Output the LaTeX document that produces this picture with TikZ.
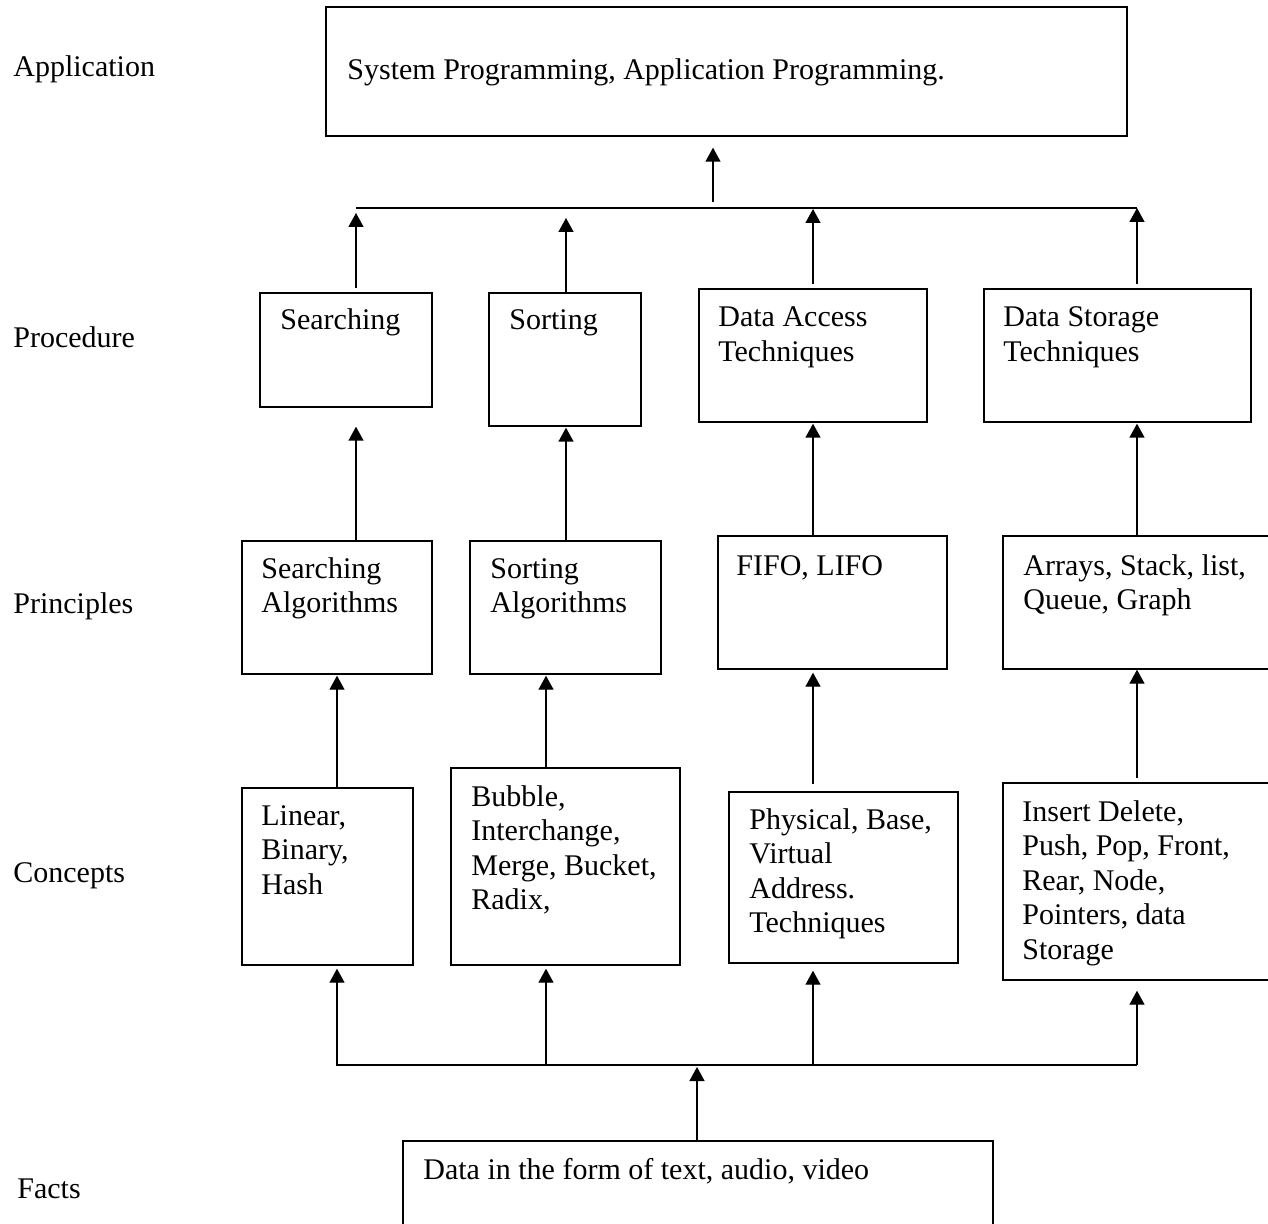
\documentclass[tikz,border=0pt]{standalone}
\usepackage{fontspec}
\setmainfont{Liberation Serif}
\usetikzlibrary{arrows.meta,fit,calc}
\begin{document}
\begin{tikzpicture}[x=0.5pt,y=-0.5pt,
  box/.style={draw,line width=0.7pt,inner sep=0pt},
  txt/.style={inner sep=0pt,anchor=base west,align=flush left,font=\fontsize{15}{17.25}\selectfont},
  ln/.style={line width=0.7pt},
  arr/.style={line width=0.7pt,-{Triangle[width=7.5pt,length=7pt]}}]
\useasboundingbox[fill=white] (0,0) rectangle (1268,1224);
\clip (0,0) rectangle (1268,1224);

% level labels
\node[txt] (lApp)  at (13,77)   {Application};
\node[txt] (lProc) at (13,348)  {Procedure};
\node[txt] (lPrin) at (13,613)  {Principles};
\node[txt] (lCon)  at (13,882)  {Concepts};
\node[txt] (lFact) at (17,1198) {Facts};

% boxes
\node[box,fit={(326,7)(1127,136)}]    (app)   {};
\node[box,fit={(260,293)(432,407)}]   (srch)  {};
\node[box,fit={(489,293)(641,426)}]   (sort)  {};
\node[box,fit={(699,289)(927,422)}]   (dacc)  {};
\node[box,fit={(984,289)(1251,422)}]  (dsto)  {};
\node[box,fit={(242,541)(432,674)}]   (salg)  {};
\node[box,fit={(470,541)(661,674)}]   (soalg) {};
\node[box,fit={(718,536)(947,669)}]   (fifo)  {};
\node[box,fit={(1003,536)(1300,669)}] (arrs)  {};
\node[box,fit={(242,788)(413,965)}]   (lin)   {};
\node[box,fit={(451,768)(680,965)}]   (bub)   {};
\node[box,fit={(729,792)(958,963)}]   (phys)  {};
\node[box,fit={(1003,783)(1300,980)}] (ins)   {};
\node[box,fit={(403,1141)(993,1260)}] (data)  {};

% box texts
\node[txt] (appT)   at (347,80)   {System Programming, Application Programming.};
\node[txt] (srchT)  at (280,330)  {Searching};
\node[txt] (sortT)  at (509,330)  {Sorting};
\node[txt,text width=100pt] (daccT)  at (718,327)  {Data Access\\Techniques};
\node[txt,text width=115pt] (dstoT)  at (1003,327) {Data Storage\\Techniques};
\node[txt,text width=82pt]  (salgT)  at (261,578)  {Searching\\Algorithms};
\node[txt,text width=82pt]  (soalgT) at (490,578)  {Sorting\\Algorithms};
\node[txt] (fifoT)  at (736,575)  {FIFO, LIFO};
\node[txt,text width=118pt] (arrsT)  at (1023,575) {Arrays, Stack, list,\\Queue, Graph};
\node[txt,text width=75pt]  (linT)   at (261,825)  {Linear,\\Binary,\\Hash};
\node[txt,text width=100pt] (bubT)   at (471,806)  {Bubble,\\Interchange,\\Merge, Bucket,\\Radix,};
\node[txt,text width=100pt] (physT)  at (749,829)  {Physical, Base,\\Virtual\\Address.\\Techniques};
\node[txt,text width=118pt] (insT)   at (1022,821) {Insert Delete,\\Push, Pop, Front,\\Rear, Node,\\Pointers, data\\Storage};
\node[txt] (dataT)  at (423,1179) {Data in the form of text, audio, video};

% column coordinates
\coordinate (c1) at (356,0);
\coordinate (c2) at (566,0);
\coordinate (c3) at (813,0);
\coordinate (c4) at (1137,0);
\coordinate (c5) at (337,0);
\coordinate (c6) at (546,0);
\coordinate (c7) at (713,0);
\coordinate (c8) at (697,0);

% upper bus
\coordinate (ubusL) at (355.5,208);
\coordinate (ubusR) at (1137,208);
\draw[ln] (ubusL) -- (ubusR);
\draw[arr] ($(ubusL -| c7)+(0,-6)$) -- ($(app.south -| c7)+(0,11)$);
\draw[arr] ($(srch.north -| c1)+(0,-4)$) -- ($(ubusL -| c1)+(0,5)$);
\draw[arr] (sort.north -| c2) -- ($(ubusL -| c2)+(0,10)$);
\draw[arr] ($(dacc.north -| c3)+(0,-4)$) -- ($(ubusL -| c3)+(0,1)$);
\draw[arr] ($(dsto.north -| c4)+(0,-4)$) -- (ubusR);

% principles -> procedure
\draw[arr] (salg.north -| c1) -- ($(srch.south -| c1)+(0,19)$);
\draw[arr] (soalg.north -| c2) -- ($(sort.south -| c2)+(0,1)$);
\draw[arr] (fifo.north -| c3) -- ($(dacc.south -| c3)+(0,1)$);
\draw[arr] ($(arrs.north -| c4)+(0,2)$) -- ($(dsto.south -| c4)+(0,1)$);

% concepts -> principles
\draw[arr] (lin.north -| c5) -- ($(salg.south -| c5)+(0,1)$);
\draw[arr] (bub.north -| c6) -- ($(soalg.south -| c6)+(0,1)$);
\draw[arr] ($(phys.north -| c3)+(0,-7)$) -- ($(fifo.south -| c3)+(0,3)$);
\draw[arr] ($(ins.north -| c4)+(0,-4)$) -- (arrs.south -| c4);

% lower bus
\coordinate (bbusL) at (336,1065);
\coordinate (bbusR) at (1137,1065);
\draw[ln] (bbusL) -- (bbusR);
\draw[arr] (bbusL -| c5) -- ($(lin.south -| c5)+(0,3)$);
\draw[arr] (bbusL -| c6) -- ($(bub.south -| c6)+(0,3)$);
\draw[arr] (bbusL -| c3) -- ($(phys.south -| c3)+(0,7)$);
\draw[arr] (bbusR) -- ($(ins.south -| c4)+(0,10)$);
\draw[arr] (data.north -| c8) -- ($(bbusL -| c8)+(0,2)$);
\end{tikzpicture}
\end{document}
